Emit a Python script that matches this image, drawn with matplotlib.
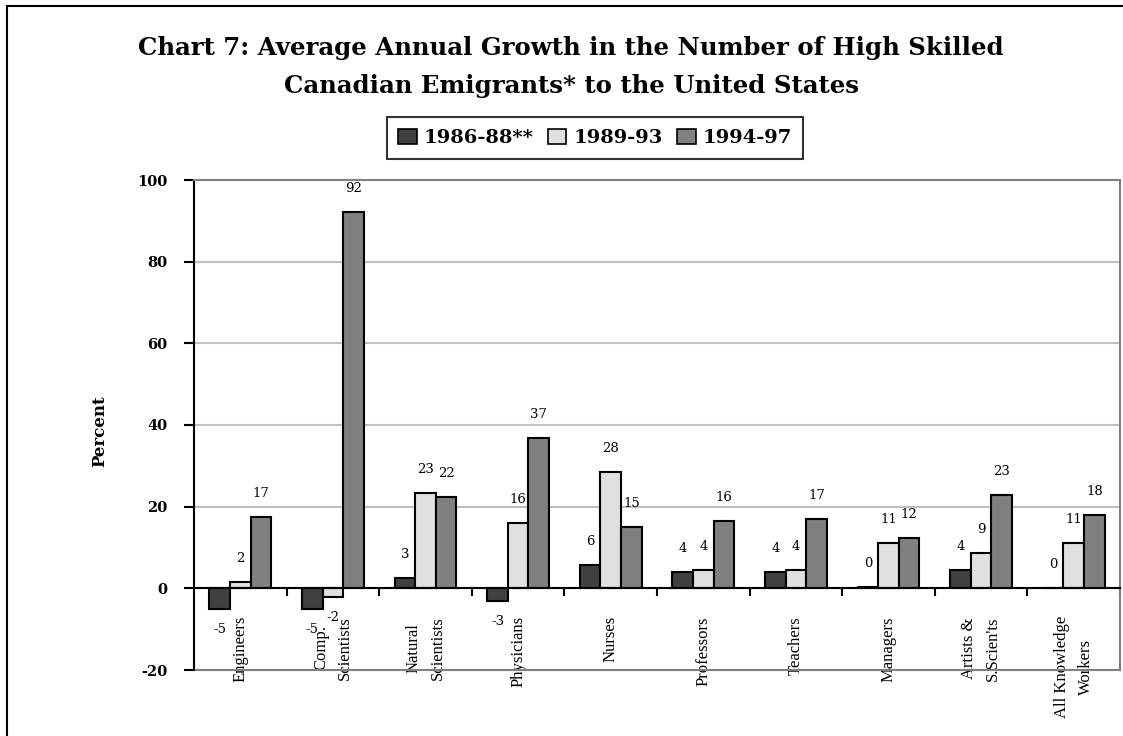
import matplotlib
matplotlib.use('Agg')
import matplotlib.pyplot as plt
import numpy as np
from matplotlib.patches import Rectangle, Patch

# data
categories = ['Engineers', 'Comp.\nScientists', 'Natural\nScientists', 'Physicians', 'Nurses',
              'Professors', 'Teachers', 'Managers', "Artists &\nS.Scien'ts", 'All Knowledge\nWorkers']
periods = ['1986-88**', '1989-93', '1994-97']
growth_8688 = [-5.1, -5.1, 2.6, -3.1, 5.6, 4.0, 4.0, 0.4, 4.4, 0.0]
growth_8993 = [1.6, -2.1, 23.4, 15.9, 28.4, 4.4, 4.4, 11.0, 8.6, 11.0]
growth_9497 = [17.4, 92.2, 22.4, 36.9, 14.9, 16.4, 16.9, 12.4, 22.9, 17.9]
yticks = [-20, 0, 20, 40, 60, 80, 100]

colors = ['#404040', '#e0e0e0', '#808080']
serif = 'DejaVu Serif'

fig = plt.figure(figsize=(11.23, 7.36), dpi=100)
ax = fig.add_axes([194 / 1123, 1 - 670 / 736, 926 / 1123, 490 / 736])

# outer frame of the chart object
fig.add_artist(Rectangle((7 / 1123, -0.05), 1.2, 1.05 - 6 / 736, transform=fig.transFigure,
                         fill=False, edgecolor='black', linewidth=1.5))

x = np.arange(len(categories))
w = 0.223
series = [growth_8688, growth_8993, growth_9497]
for i, (vals, col) in enumerate(zip(series, colors)):
    xs = x + (i - 1) * w
    ax.bar(xs, vals, width=w, color=col, edgecolor='black', linewidth=1.5, zorder=3)
    for xi, v in zip(xs, vals):
        off = 17 if v >= 0 else -14.5
        ax.annotate(str(int(round(v))), (xi, v), xytext=(0, off), textcoords='offset points',
                    ha='center', va='center', fontsize=9.5, family=serif, zorder=4)

ax.set_xlim(-0.5, len(categories) - 0.5)
ax.set_ylim(-20, 100)

# axes styling
ax.set_yticks(yticks)
ax.set_yticklabels([str(t) for t in yticks], family=serif, fontweight='bold', fontsize=10.5)
ax.tick_params(axis='y', direction='out', length=7.2, width=1.5, pad=12, color='black')
ax.yaxis.grid(True, color='#c0c0c0', linewidth=1.5)
ax.set_axisbelow(True)

ax.spines['left'].set_linewidth(1.5)
ax.spines['left'].set_color('black')
ax.spines['bottom'].set_position(('data', 0))
ax.spines['bottom'].set_linewidth(1.5)
ax.spines['bottom'].set_zorder(5)
for s in ['top', 'right']:
    ax.spines[s].set_color('#808080')
    ax.spines[s].set_linewidth(1.5)
ax.axhline(-20, color='#808080', linewidth=1.5, clip_on=False, zorder=2)

ax.set_xticks(x)
ax.set_xticklabels(categories, rotation=90, family='Liberation Serif', fontsize=12, linespacing=1.65)
ax.tick_params(axis='x', which='major', length=0, pad=20)
ax.set_xticks(np.arange(0.5, len(categories), 1), minor=True)
ax.tick_params(axis='x', which='minor', length=6, width=1.5, direction='out')

ax.set_ylabel('Percent', family=serif, fontweight='bold', fontsize=12)
ax.yaxis.set_label_coords(-0.093, 0.488)

fig.text(571 / 1123, 1 - 67 / 736,
         'Chart 7: Average Annual Growth in the Number of High Skilled\n'
         'Canadian Emigrants* to the United States',
         ha='center', va='center', family=serif, fontweight='bold', fontsize=17.6, linespacing=1.78)

handles = [Patch(facecolor=c, edgecolor='black', linewidth=1.2) for c in colors]
leg = fig.legend(handles, periods, loc='center', bbox_to_anchor=(595 / 1123, 1 - 138 / 736), ncol=3,
                 frameon=True, fancybox=False, edgecolor='black', handlelength=0.95, handleheight=0.85,
                 handletextpad=0.35, columnspacing=0.75, borderpad=0.6, borderaxespad=0,
                 prop={'family': serif, 'weight': 'bold', 'size': 14})
leg.get_frame().set_linewidth(1.5)

fig.savefig('out.png', dpi=100)
